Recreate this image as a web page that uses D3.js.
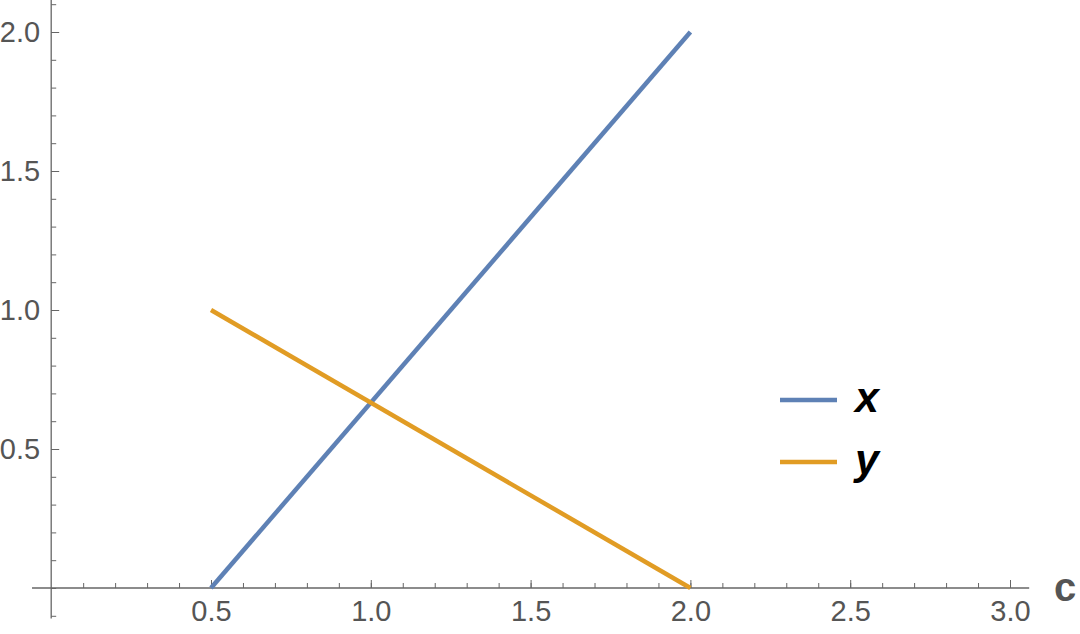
<!DOCTYPE html>
<html>
<head>
<meta charset="utf-8">
<script src="https://cdn.jsdelivr.net/npm/d3@7"></script>
<style>
  body { margin: 0; background: #fff; }
  svg { display: block; }
  text { font-family: "Liberation Sans", Arial, sans-serif; }
</style>
</head>
<body>
<script>
// data
const cValues = [0.5, 2.0];
const xValues = [0, 2];
const yValues = [1, 0];
const seriesNames = ["x", "y"];
const seriesColors = ["#5e81b5", "#e19c24"];
const xTickLabels = [0.5, 1.0, 1.5, 2.0, 2.5, 3.0];
const yTickLabels = [0.5, 1.0, 1.5, 2.0];

const width = 1080, height = 634;

const x = d3.scaleLinear().domain([0, 3]).range([51.2, 1010]);
const y = d3.scaleLinear().domain([0, 2]).range([588, 32]);

const svg = d3.select("body").append("svg")
    .attr("width", width)
    .attr("height", height);

const axisColor = "#666";
const labelColor = "#555";

// x axis
const xMinor = d3.range(0.1, 3.01, 0.1).map(d => +d.toFixed(1));
svg.append("g")
    .attr("transform", `translate(0,${y(0)})`)
    .call(d3.axisBottom(x).tickValues(xMinor).tickSize(-5).tickFormat(""))
    .call(g => g.select(".domain").remove())
    .call(g => g.selectAll("line").attr("stroke", axisColor));

svg.append("g")
    .attr("transform", `translate(0,${y(0)})`)
    .call(d3.axisBottom(x).tickValues(xTickLabels).tickSize(-8).tickPadding(12).tickFormat(d3.format(".1f")))
    .call(g => g.select(".domain").remove())
    .call(g => g.selectAll("line").attr("stroke", axisColor))
    .call(g => g.selectAll("text")
        .attr("fill", labelColor)
        .style("font-size", "29px")
        .style("font-family", "'Liberation Sans', Arial, sans-serif"));

svg.append("line")
    .attr("x1", x(-0.06)).attr("x2", x(3.06))
    .attr("y1", y(0)).attr("y2", y(0))
    .attr("stroke", axisColor)
    .attr("stroke-width", 1.3);

// y axis
const yMinor = d3.range(-0.1, 2.11, 0.1).map(d => +d.toFixed(1));
svg.append("g")
    .attr("transform", `translate(${x(0)},0)`)
    .call(d3.axisLeft(y).tickValues(yMinor).tickSize(-5).tickFormat(""))
    .call(g => g.select(".domain").remove())
    .call(g => g.selectAll("line").attr("stroke", axisColor));

svg.append("g")
    .attr("transform", `translate(${x(0)},0)`)
    .call(d3.axisLeft(y).tickValues(yTickLabels).tickSize(-8).tickPadding(11).tickFormat(d3.format(".1f")))
    .call(g => g.select(".domain").remove())
    .call(g => g.selectAll("line").attr("stroke", axisColor))
    .call(g => g.selectAll("text")
        .attr("fill", labelColor)
        .style("font-size", "29px")
        .style("font-family", "'Liberation Sans', Arial, sans-serif"));

svg.append("line")
    .attr("x1", x(0)).attr("x2", x(0))
    .attr("y1", y(2.12)).attr("y2", y(-0.11))
    .attr("stroke", axisColor)
    .attr("stroke-width", 1.3);

// axis label
svg.append("text")
    .attr("x", 1054)
    .attr("y", 601)
    .attr("fill", labelColor)
    .style("font-size", "40px")
    .style("font-weight", "bold")
    .text("c");

// lines
const line = d3.line().x(d => x(d[0])).y(d => y(d[1]));
const series = [xValues, yValues].map(vals => cValues.map((c, i) => [c, vals[i]]));

svg.append("g")
    .selectAll("path")
    .data(series)
    .join("path")
        .attr("d", line)
        .attr("fill", "none")
        .attr("stroke", (d, i) => seriesColors[i])
        .attr("stroke-width", 4.5);

// legend
const legend = svg.append("g")
    .selectAll("g")
    .data(seriesNames)
    .join("g")
        .attr("transform", (d, i) => `translate(780,${400 + i * 62})`);

legend.append("line")
    .attr("x1", 0).attr("x2", 57)
    .attr("stroke", (d, i) => seriesColors[i])
    .attr("stroke-width", 4.5);

legend.append("text")
    .attr("x", 75)
    .attr("y", 12)
    .attr("fill", "#000")
    .style("font-size", "43px")
    .style("font-weight", "bold")
    .style("font-style", "italic")
    .text(d => d);
</script>
</body>
</html>
